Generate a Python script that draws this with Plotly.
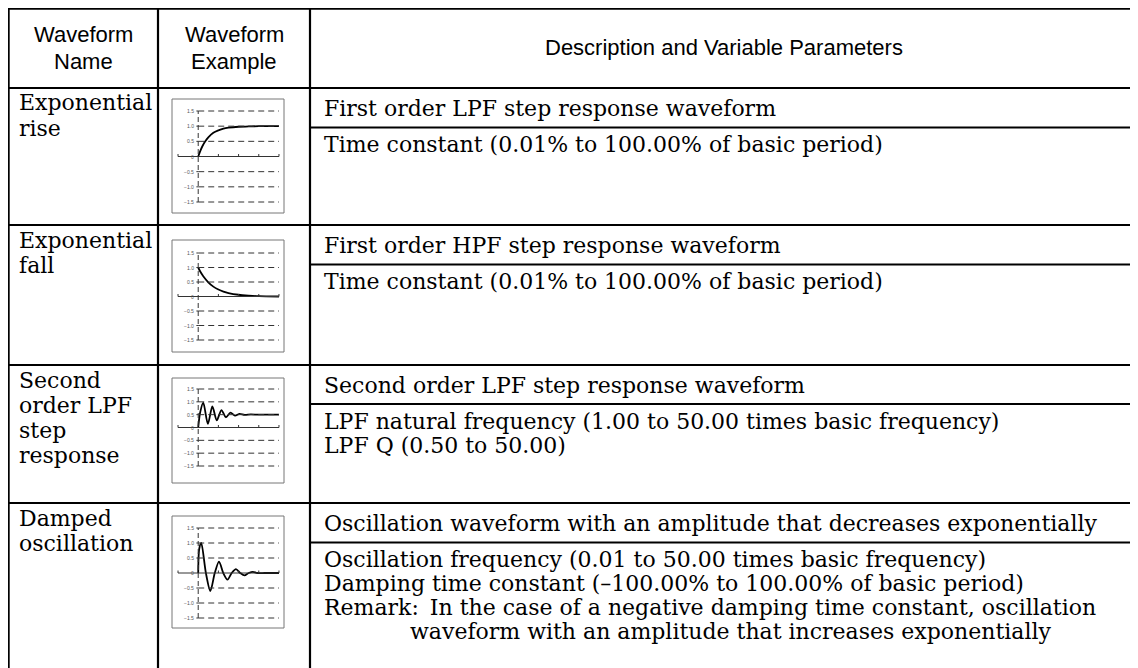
import plotly.graph_objects as go

# ---------------- data ----------------
header_col1 = ["Waveform", "Name"]
header_col2 = ["Waveform", "Example"]
header_col3 = "Description and Variable Parameters"
waveform_names = [["Exponential", "rise"], ["Exponential", "fall"],
                  ["Second", "order LPF", "step", "response"], ["Damped", "oscillation"]]
descriptions = ["First order LPF step response waveform",
                "First order HPF step response waveform",
                "Second order LPF step response waveform",
                "Oscillation waveform with an amplitude that decreases exponentially"]
parameters = [["Time constant (0.01% to 100.00% of basic period)"],
              ["Time constant (0.01% to 100.00% of basic period)"],
              ["LPF natural frequency (1.00 to 50.00 times basic frequency)",
               "LPF Q (0.50 to 50.00)"],
              ["Oscillation frequency (0.01 to 50.00 times basic frequency)",
               "Damping time constant (\u2013100.00% to 100.00% of basic period)",
               "Remark:\u2002In the case of a negative damping time constant, oscillation"]]
remark_cont = "waveform with an amplitude that increases exponentially"

ytick_vals = [1.5, 1.0, 0.5, 0, -0.5, -1.0, -1.5]
ytick_text = ["1.5", "1.0", "0.5", "0", "\u22120.5", "\u22121.0", "\u22121.5"]
grid_levels = [1.5, 1.0, 0.5, -0.5, -1.0, -1.5]
xtick_vals = [1, 2, 3, 4]

rise_x = [0, 0.1, 0.2, 0.35, 0.5, 0.75, 1.0, 1.25, 1.5, 2.0, 2.5, 3.0, 4.0]
rise_y = [0, 0.18, 0.33, 0.50, 0.63, 0.78, 0.86, 0.92, 0.95, 0.98, 0.99, 1.0, 1.0]

fall_x = [0, 0.1, 0.25, 0.5, 0.75, 1.0, 1.25, 1.5, 2.0, 2.5, 3.0, 4.0]
fall_y = [1.0, 0.86, 0.70, 0.49, 0.34, 0.24, 0.17, 0.12, 0.06, 0.03, 0.01, 0.0]

lpf_x = [0, 0.1, 0.25, 0.48, 0.7, 0.92, 1.15, 1.37, 1.6, 1.82, 2.05, 2.3, 2.6, 3.0, 4.0]
lpf_y = [0, 0.6, 0.97, 0.14, 0.82, 0.28, 0.68, 0.40, 0.58, 0.46, 0.53, 0.49, 0.51, 0.5, 0.5]

damp_x = [0, 0.05, 0.15, 0.38, 0.6, 0.82, 1.03, 1.24, 1.45, 1.66, 1.87, 2.08, 2.29, 2.5, 2.71, 2.92, 3.3, 4.0]
damp_y = [0, 0.8, 1.0, 0.0, -0.6, 0.0, 0.38, 0.0, -0.22, 0.0, 0.13, 0.0, -0.08, 0.0, 0.04, 0.0, 0.0, 0.0]

waves = [(rise_x, rise_y), (fall_x, fall_y), (lpf_x, lpf_y), (damp_x, damp_y)]

# ---------------- geometry (page pixels; the page has an 8px body margin) ----------------
OFF = 8
FW, FH = 1130, 660
def px(x): return (x - OFF) / FW
def py(y): return 1 - (y - OFF) / FH

LEFT, COL1, COL2, RIGHT, TOP, BOTTOM = 8.6, 158, 310, 1140, 8.6, 670
HEAD_BOTTOM = 88
row_tops = [88, 225, 365, 503]
row_split = [127.5, 264.5, 404, 542.5]
# per-row example box: top, bottom, y of +1.5, y of -1.5
boxes = [(99, 213, 111, 202), (240, 352, 253, 340), (378, 483, 389, 466), (516, 628, 528, 618)]
BOX_X0, BOX_X1 = 172, 284
AX_X0, AX_X1 = 176, 282          # plot domain in px
XR = [-1.1, 4.15]

HEAD_FONT = dict(family="Liberation Sans, Arial, sans-serif", size=22, color="black")
BODY_FONT = dict(family="DejaVu Serif, serif", size=22, color="black")
TICK_FONT = dict(family="Liberation Sans, Arial, sans-serif", size=5, color="#555")
LABEL_PITCH = 25
PARAM_PITCH = 24

fig = go.Figure()
shapes = []
annotations = []

def hline(y, x0, x1, w=2.2, color="black"):
    shapes.append(dict(type="line", xref="paper", yref="paper", x0=px(x0), x1=px(x1),
                       y0=py(y), y1=py(y), line=dict(color=color, width=w)))

def vline(x, y0, y1, w=2.2, color="black"):
    shapes.append(dict(type="line", xref="paper", yref="paper", x0=px(x), x1=px(x),
                       y0=py(y0), y1=py(y1), line=dict(color=color, width=w)))

def text(x, y, s, font, xanchor="left"):
    annotations.append(dict(x=px(x), y=py(y), xref="paper", yref="paper", xanchor=xanchor,
                            yanchor="middle", align=xanchor if xanchor != "center" else "center",
                            text=s, showarrow=False, font=font))

# table frame
hline(TOP, LEFT - 1, RIGHT)
hline(HEAD_BOTTOM, LEFT - 1, RIGHT)
for rt in row_tops[1:]:
    hline(rt, LEFT - 1, RIGHT)
for rs in row_split:
    hline(rs, COL2, RIGHT)
for x in (LEFT, COL1, COL2):
    vline(x, TOP - 1, BOTTOM)

# header
for k, s in enumerate(header_col1):
    text((LEFT + COL1) / 2, 34 + 28 * k, s, HEAD_FONT, "center")
for k, s in enumerate(header_col2):
    text((COL1 + COL2) / 2, 34 + 28 * k, s, HEAD_FONT, "center")
text((COL2 + 1138) / 2, 48, header_col3, HEAD_FONT, "center")

# body rows
for i in range(4):
    rt, rs = row_tops[i], row_split[i]
    for k, s in enumerate(waveform_names[i]):
        text(17, rt + 15 + LABEL_PITCH * k, s, BODY_FONT)
    text(322, (rt + rs) / 2 + 1, descriptions[i], BODY_FONT)
    for k, s in enumerate(parameters[i]):
        text(322, rs + 17 + PARAM_PITCH * k, s, BODY_FONT)
text(408, row_split[3] + 17 + PARAM_PITCH * 3, remark_cont, BODY_FONT)

# waveform examples
layout_axes = {}
for i, ((wx, wy), (bt, bb, yp, ym)) in enumerate(zip(waves, boxes)):
    n = "" if i == 0 else str(i + 1)
    xa, ya = "x" + n, "y" + n
    p = (ym - yp) / 3.0
    pad = 4
    yr = [-1.5 - pad / p, 1.5 + pad / p]
    layout_axes["xaxis" + n] = dict(domain=[px(AX_X0), px(AX_X1)], range=XR, visible=False,
                                    anchor=ya, fixedrange=True)
    layout_axes["yaxis" + n] = dict(domain=[py(ym + pad), py(yp - pad)], range=yr, visible=False,
                                    anchor=xa, fixedrange=True)
    shapes.append(dict(type="rect", xref="paper", yref="paper", x0=px(BOX_X0), x1=px(BOX_X1),
                       y0=py(bb), y1=py(bt), line=dict(color="#777", width=1)))
    for g in grid_levels:
        shapes.append(dict(type="line", xref=xa, yref=ya, x0=0, x1=4, y0=g, y1=g,
                           line=dict(color="#333", width=1, dash="6px,4px")))
        shapes.append(dict(type="line", xref=xa, yref=ya, x0=-0.09, x1=0, y0=g, y1=g,
                           line=dict(color="#333", width=1)))
    shapes.append(dict(type="line", xref=xa, yref=ya, x0=0, x1=0, y0=-1.5, y1=1.5,
                       line=dict(color="#333", width=1, dash="5px,3px")))
    shapes.append(dict(type="line", xref=xa, yref=ya, x0=-1, x1=4, y0=0, y1=0,
                       line=dict(color="#333", width=1)))
    for t in xtick_vals + [-1]:
        shapes.append(dict(type="line", xref=xa, yref=ya, x0=t, x1=t, y0=0, y1=2.5 / p,
                           line=dict(color="#333", width=1)))
    for v, tt in zip(ytick_vals, ytick_text):
        annotations.append(dict(x=-0.12, y=v, xref=xa, yref=ya, xanchor="right", yanchor="middle",
                                text=tt, showarrow=False, font=TICK_FONT))
    fig.add_trace(go.Scatter(x=wx, y=wy, xaxis=xa, yaxis=ya, mode="lines",
                             line=dict(color="black", width=1.8, shape="spline", smoothing=0.8),
                             hoverinfo="skip", showlegend=False))

fig.update_layout(width=FW, height=FH, margin=dict(l=0, r=0, t=0, b=0),
                  paper_bgcolor="white", plot_bgcolor="rgba(0,0,0,0)",
                  showlegend=False, shapes=shapes, annotations=annotations, **layout_axes)

fig.write_html("out.html", config={"displayModeBar": False})
